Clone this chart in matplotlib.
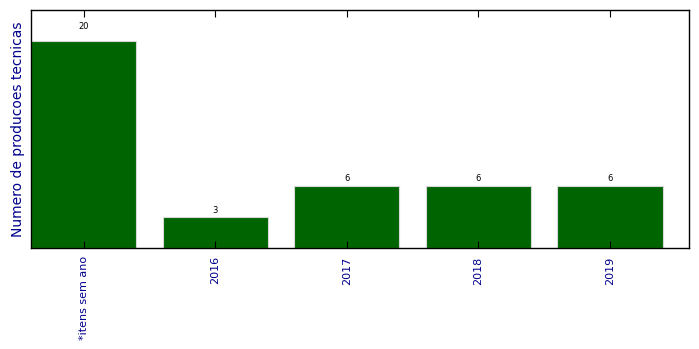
import matplotlib
matplotlib.use('Agg')
import matplotlib.pyplot as plt

categorias = ['*itens sem ano', '2016', '2017', '2018', '2019']
valores = [20, 3, 6, 6, 6]

fig = plt.figure(figsize=(6.99, 3.49), dpi=100)
ax = fig.add_axes([31/699, 1 - 248/349, 658/699, 238/349])

pos = list(range(len(categorias)))
bars = ax.bar(pos, valores, width=0.8, color='darkgreen', edgecolor='#d8d8d8', linewidth=0.8)
for b, v in zip(bars, valores):
    ax.text(b.get_x() + b.get_width() / 2, 1.05 * v, str(v), ha='center', va='bottom', fontsize=6)

ax.set_xlim(-0.4, len(categorias) - 0.4)
ax.set_ylim(0, max(valores) * 1.15)
ax.set_xticks(pos)
ax.set_xticklabels(categorias, rotation=90, fontsize=8, color='darkblue')
ax.set_yticks([])
ax.tick_params(axis='x', direction='in', top=True, length=5, pad=6)
ax.set_ylabel('Numero de producoes tecnicas', color='darkblue', fontsize=10)
for s in ax.spines.values():
    s.set_linewidth(1)

fig.savefig('out.png', dpi=100)
